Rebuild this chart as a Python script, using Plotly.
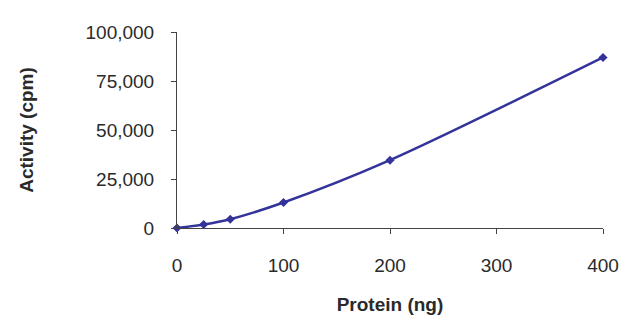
import plotly.graph_objects as go

# Kinase activity vs. amount of protein
protein_ng = [0, 25, 50, 100, 200, 400]
activity_cpm = [0, 1800, 4500, 13000, 34600, 87000]

x_ticks = [0, 100, 200, 300, 400]
y_ticks = [0, 25000, 50000, 75000, 100000]
y_tick_labels = ["0", "25,000", "50,000", "75,000", "100,000"]

line_color = "#33339a"
text_color = "#2a2a2a"
axis_color = "#444444"
font_family = "Liberation Sans, Arial, sans-serif"

fig = go.Figure(
    go.Scatter(
        x=protein_ng,
        y=activity_cpm,
        mode="lines+markers",
        line=dict(color=line_color, width=2.5, shape="spline", smoothing=0.8),
        marker=dict(symbol="diamond", size=7, color=line_color),
        cliponaxis=False,
        showlegend=False,
    )
)

fig.update_layout(
    width=640,
    height=325,
    margin=dict(l=177, r=37, t=32, b=97),
    paper_bgcolor="white",
    plot_bgcolor="white",
    font=dict(family=font_family, color=text_color, size=19),
)

fig.update_xaxes(
    range=[0, 400],
    tickvals=x_ticks,
    ticks="outside",
    ticklen=5,
    tickcolor=axis_color,
    ticklabelstandoff=15,
    showline=True,
    linecolor=axis_color,
    linewidth=1,
    showgrid=False,
    zeroline=False,
    tickfont=dict(size=19),
    title=dict(text="<b>Protein (ng)</b>", font=dict(size=19), standoff=22),
)

fig.update_yaxes(
    range=[0, 100000],
    tickvals=y_ticks,
    ticktext=y_tick_labels,
    ticks="outside",
    ticklen=5,
    tickcolor=axis_color,
    ticklabelstandoff=13,
    showline=True,
    linecolor=axis_color,
    linewidth=1,
    showgrid=False,
    zeroline=False,
    tickfont=dict(size=19),
    title=dict(text="<b>Activity (cpm)</b>", font=dict(size=19), standoff=46),
)

fig.write_html("out.html")
